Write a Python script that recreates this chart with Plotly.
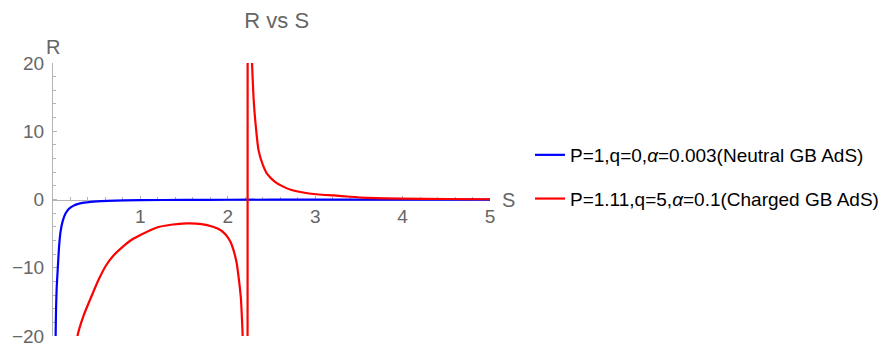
import plotly.graph_objects as go

# values
s_neutral = [0.028, 0.03, 0.035, 0.042, 0.055, 0.07, 0.086, 0.11, 0.143, 0.18,
             0.23, 0.3, 0.43, 0.62, 1.0, 1.5, 2.0, 3.0, 4.0, 5.0]
r_neutral = [-25, -20, -16, -13, -10, -6.8, -4.75, -3.2, -2.06, -1.4,
             -0.93, -0.6, -0.34, -0.2, -0.1, -0.06, -0.04, -0.02, -0.015, -0.01]

s_charged = [0.26, 0.28, 0.35, 0.43, 0.52, 0.61, 0.7, 0.8, 0.9, 1.0, 1.19, 1.35,
             1.53, 1.7, 1.83, 1.92, 1.98, 2.03, 2.06, 2.1, 2.12, 2.15, 2.16, 2.17,
             2.2, 2.222, 2.23, 2.24, 2.26, 2.277, 2.295, 2.314, 2.352, 2.4, 2.448,
             2.54, 2.64, 2.73, 2.83, 3.04, 3.21, 3.4, 3.59, 4.0, 4.5, 5.0]
r_charged = [-24, -20, -17, -14.5, -11.8, -9.6, -8.1, -6.9, -5.9, -5.2, -4.1, -3.7,
             -3.5, -3.6, -4.0, -4.5, -5.2, -6.2, -7.2, -9.2, -11, -14.5, -16.9, -20,
             -40, -250, 250, 73, 30, 20, 14.8, 11.6, 7.2, 5.1, 3.8,
             2.6, 1.85, 1.4, 1.1, 0.73, 0.6, 0.4, 0.25, 0.12, 0.07, 0.04]

x_ticks = [1, 2, 3, 4, 5]
y_ticks = [-20, -10, 0, 10, 20]

grey = '#666666'
axis_col = '#b3b3b3'

fig = go.Figure()
fig.add_trace(go.Scatter(x=s_neutral, y=r_neutral, mode='lines',
                         line=dict(color='#0000ff', width=2.2, shape='spline', smoothing=0.6),
                         name='P=1,q=0,<i>α</i>=0.003(Neutral GB AdS)',
                         legendgroup='a'))
fig.add_trace(go.Scatter(x=s_charged, y=r_charged, mode='lines',
                         line=dict(color='#ff0000', width=2.2, shape='spline', smoothing=0.5),
                         name='P=1.11,q=5,<i>α</i>=0.1(Charged GB AdS)',
                         legendgroup='b'))

fig.update_layout(
    width=888, height=346,
    margin=dict(l=53, r=398, t=63, b=10, autoexpand=False),
    paper_bgcolor='white', plot_bgcolor='white',
    font=dict(family='Liberation Sans, Arial, sans-serif', color=grey),
    title=dict(text='R vs S', x=0.512, xref='paper', y=1 - 20 / 346, yref='container',
               xanchor='center', yanchor='middle', font=dict(size=22, color=grey)),
    showlegend=True,
    legend=dict(xref='container', yref='container', x=530 / 888, y=1 - 136 / 346,
                xanchor='left', yanchor='top', font=dict(size=19, color='black'),
                traceorder='grouped', tracegroupgap=16, bgcolor='rgba(0,0,0,0)'),
)

fig.update_xaxes(range=[0, 5], anchor='free', position=0.5, showline=True,
                 linecolor=axis_col, linewidth=1, showgrid=False, zeroline=False,
                 tickvals=x_ticks, ticks='inside', ticklen=4, tickcolor=axis_col,
                 tickfont=dict(size=19, color=grey), layer='below traces',
                 automargin=False, ticklabeloverflow='allow',
                 minor=dict(dtick=0.2, ticks='inside', ticklen=2.5, tickcolor=axis_col))
fig.update_yaxes(range=[-20, 20], showline=True, linecolor=axis_col, linewidth=1,
                 showgrid=False, zeroline=False, tickvals=y_ticks, ticks='inside',
                 ticklen=4, tickcolor=axis_col, tickfont=dict(size=19, color=grey),
                 layer='below traces', ticklabelstandoff=4, automargin=False,
                 ticklabeloverflow='allow',
                 minor=dict(dtick=2, ticks='inside', ticklen=2.5, tickcolor=axis_col))

# axis names at the ends of the axes, as in the original
fig.add_annotation(text='R', x=0, y=20, xref='x', yref='y', xanchor='center',
                   yanchor='bottom', yshift=3, showarrow=False,
                   font=dict(size=20, color=grey))
fig.add_annotation(text='S', x=5, y=0, xref='x', yref='y', xanchor='left',
                   yanchor='middle', xshift=10, showarrow=False,
                   font=dict(size=20, color=grey))

# drop the browser's default 8px body margin so the figure sits at the page corner
fig.write_html('out.html', config={'displayModeBar': False},
               post_script="document.body.style.margin='0';")
